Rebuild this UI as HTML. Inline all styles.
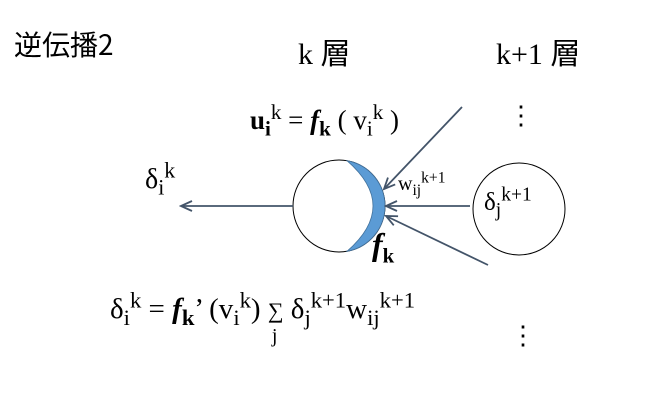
<!DOCTYPE html>
<html><head><meta charset="utf-8"><style>
body{margin:0;width:645px;height:402px;background:#fff;position:relative;overflow:hidden;color:#000}
.t{position:absolute;white-space:nowrap;line-height:1;font-family:"Liberation Serif","DejaVu Serif",serif}
.j{font-family:"Noto Sans CJK JP",sans-serif}
sup,sub{font-size:78%;line-height:0}
b i{font-weight:bold}
</style></head><body>
<svg width="645" height="402" style="position:absolute;left:0;top:0">
<defs><marker id="a" markerWidth="14" markerHeight="14" refX="12" refY="6" orient="auto" markerUnits="userSpaceOnUse"><path d="M1,1 L12,6 L1,11" fill="none" stroke="#435469" stroke-width="1.8"/></marker></defs>
<circle cx="339" cy="206" r="46" fill="#fff" stroke="#000" stroke-width="1"/>
<path d="M347,160.7 A46 46 0 0 1 347,251.3 Q399,206 347,160.7Z" fill="#5b9bd5" stroke="#41719c" stroke-width="0.8"/>
<circle cx="519" cy="209" r="46" fill="#fff" stroke="#000" stroke-width="1"/>
<g stroke="#435469" stroke-width="1.8" fill="none">
<line x1="293" y1="206" x2="181" y2="206" marker-end="url(#a)"/>
<line x1="470" y1="206" x2="386" y2="206" marker-end="url(#a)"/>
<line x1="462" y1="107" x2="384" y2="189" marker-end="url(#a)"/>
<line x1="488" y1="265" x2="386" y2="216" marker-end="url(#a)"/>
</g>
</svg>
<div class="t j" style="left:14px;top:30px;font-size:28px">逆伝播2</div>
<div class="t" style="left:298px;top:36px;font-size:30px">k <span class="j">層</span></div>
<div class="t" style="left:496px;top:36px;font-size:30px">k+1 <span class="j">層</span></div>
<div class="t" style="left:508px;top:103px;font-size:26px">⋮</div>
<div class="t" style="left:510px;top:323px;font-size:26px">⋮</div>
<div class="t" style="left:250px;top:107px;font-size:27px"><b>u</b><sub><b>i</b></sub><sup>k</sup> = <b><i>f</i></b><sub><b>k</b></sub> ( v<sub>i</sub><sup>k</sup> )</div>
<div class="t" style="left:145px;top:166px;font-size:28px">δ<sub>i</sub><sup>k</sup></div>
<div class="t" style="left:398px;top:174px;font-size:20px">w<sub>ij</sub><sup>k+1</sup></div>
<div class="t" style="left:484px;top:190px;font-size:25px">δ<sub>j</sub><sup>k+1</sup></div>
<div class="t" style="left:372px;top:228px;font-size:32px"><b><i>f</i></b><sub style="font-size:65%"><b>k</b></sub></div>
<div class="t" style="left:110px;top:295px;font-size:29px">δ<sub>i</sub><sup>k</sup> = <b><i>f</i></b><sub><b>k</b></sub>’ (v<sub>i</sub><sup>k</sup>) <span style="display:inline-block;position:relative;font-size:22px">∑<span style="position:absolute;left:4px;top:26px;font-size:20px">j</span></span> δ<sub>j</sub><sup>k+1</sup>w<sub>ij</sub><sup>k+1</sup></div>
</body></html>
